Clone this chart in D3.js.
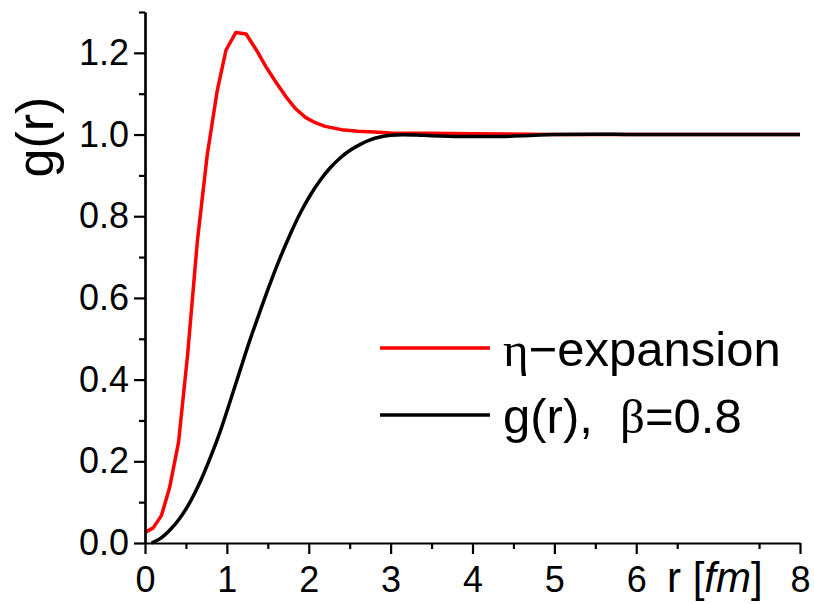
<!DOCTYPE html>
<html>
<head>
<meta charset="utf-8">
<script src="https://cdn.jsdelivr.net/npm/d3@7"></script>
<style>
  html, body { margin: 0; padding: 0; background: #fff; }
  svg { display: block; }
  text { font-family: "Liberation Sans", Arial, sans-serif; fill: #000; }
</style>
</head>
<body>
<svg id="chart" width="814" height="604"></svg>
<script>
// η-expansion of the pair correlation function
const etaR = [0, 0.1, 0.2, 0.3, 0.41, 0.52, 0.64, 0.76, 0.88, 0.99, 1.11, 1.235, 1.36, 1.48, 1.6, 1.72, 1.84, 1.96, 2.08, 2.2, 2.4, 2.6, 2.8, 3.0, 3.5, 4.0, 5, 6, 7, 8];
const etaG = [0.026, 0.037, 0.067, 0.135, 0.247, 0.46, 0.74, 0.95, 1.105, 1.207, 1.25, 1.246, 1.207, 1.165, 1.128, 1.093, 1.063, 1.042, 1.029, 1.02, 1.012, 1.008, 1.006, 1.004, 1.003, 1.002, 1.0, 1.0, 1.0, 1.0];

// g(r) at beta = 0.8
const gR = [0.08, 0.18, 0.31, 0.43, 0.55, 0.67, 0.8, 0.92, 1.04, 1.16, 1.28, 1.41, 1.53, 1.65, 1.77, 1.9, 2.02, 2.14, 2.26, 2.38, 2.51, 2.63, 2.75, 2.87, 3.0, 3.15, 3.4, 3.7, 4.0, 4.3, 4.6, 5.0, 5.5, 6, 7, 8];
const gG = [0, 0.01, 0.033, 0.062, 0.100, 0.148, 0.210, 0.274, 0.347, 0.422, 0.496, 0.570, 0.636, 0.698, 0.754, 0.809, 0.852, 0.888, 0.918, 0.942, 0.962, 0.976, 0.987, 0.994, 0.998, 0.9995, 0.998, 0.996, 0.995, 0.995, 0.997, 1.0, 1.001, 1.0, 1.0, 1.0];

// axis ticks
const xMajor = [0, 1, 2, 3, 4, 5, 6, 8];
const xMinor = [0.5, 1.5, 2.5, 3.5, 4.5, 5.5, 6.5, 7.5];
const yMajor = [0, 0.2, 0.4, 0.6, 0.8, 1.0, 1.2];
const yMinor = [0.1, 0.3, 0.5, 0.7, 0.9, 1.1, 1.3];

const legendLabels = ["η−expansion", "g(r),  β=0.8"];
const seriesColors = ["#ff0000", "#000000"];

const svg = d3.select("#chart");
const plotLeft = 145, plotRight = 800, plotTop = 12, plotBottom = 543;

const x = d3.scaleLinear().domain([0, 8]).range([plotLeft, plotRight]);
const y = d3.scaleLinear().domain([0, 1.3]).range([plotBottom, plotTop]);

// curves
const etaLine = d3.line().x(d => x(d[0])).y(d => y(d[1])).curve(d3.curveLinear);
const gLine = d3.line().x(d => x(d[0])).y(d => y(d[1])).curve(d3.curveMonotoneX);

svg.append("path")
  .datum(d3.zip(etaR, etaG))
  .attr("d", etaLine)
  .attr("fill", "none")
  .attr("stroke", seriesColors[0])
  .attr("stroke-width", 3.5)
  .attr("stroke-linejoin", "round");

svg.append("path")
  .datum(d3.zip(gR, gG))
  .attr("d", gLine)
  .attr("fill", "none")
  .attr("stroke", seriesColors[1])
  .attr("stroke-width", 3.5)
  .attr("stroke-linejoin", "round");

// axes
function styleAxis(g) {
  g.attr("font-family", null).attr("font-size", null);
  g.selectAll(".domain").attr("stroke", "#000").attr("stroke-width", 2.2);
  g.selectAll(".tick line").attr("stroke", "#000").attr("stroke-width", 2.2);
  g.selectAll(".tick text").style("font-size", "36px").attr("fill", "#000");
}

svg.append("g")
  .attr("transform", `translate(0,${plotBottom})`)
  .call(d3.axisBottom(x).tickValues(xMajor).tickSize(11).tickSizeOuter(0).tickPadding(12).tickFormat(d3.format("d")))
  .call(styleAxis);

svg.append("g")
  .attr("transform", `translate(0,${plotBottom})`)
  .call(d3.axisBottom(x).tickValues(xMinor).tickSize(6).tickSizeOuter(0).tickFormat(""))
  .call(styleAxis)
  .select(".domain").remove();

svg.append("g")
  .attr("transform", `translate(${plotLeft},0)`)
  .call(d3.axisLeft(y).tickValues(yMajor).tickSize(11).tickSizeOuter(0).tickPadding(5).tickFormat(d3.format(".1f")))
  .call(styleAxis);

svg.append("g")
  .attr("transform", `translate(${plotLeft},0)`)
  .call(d3.axisLeft(y).tickValues(yMinor).tickSize(6).tickSizeOuter(0).tickFormat(""))
  .call(styleAxis);

// axis titles
const xTitle = svg.append("text")
  .attr("x", 667)
  .attr("y", 592)
  .style("font-size", "42px");
xTitle.append("tspan").text("r [");
xTitle.append("tspan").style("font-style", "italic").text("fm");
xTitle.append("tspan").text("]");

svg.append("text")
  .attr("transform", "translate(53,137) rotate(-90)")
  .attr("text-anchor", "middle")
  .style("font-size", "52px")
  .text("g(r)");

// legend
const legend = svg.append("g");
const legendY = [348, 415];
legendLabels.forEach((label, i) => {
  legend.append("line")
    .attr("x1", 380).attr("x2", 490)
    .attr("y1", legendY[i]).attr("y2", legendY[i])
    .attr("stroke", seriesColors[i])
    .attr("stroke-width", 3.5);
  const t = legend.append("text")
    .attr("x", 503)
    .attr("y", legendY[i] + 18)
    .style("font-size", "49px")
    .style("white-space", "pre");
  // Greek letters in a serif face, the rest in sans
  const parts = label.split(/([ηβ])/);
  parts.forEach(p => {
    if (!p) return;
    const s = t.append("tspan").text(p);
    if (p === "η" || p === "β") s.style("font-family", "'Liberation Serif', 'DejaVu Serif', serif");
  });
});
</script>
</body>
</html>
